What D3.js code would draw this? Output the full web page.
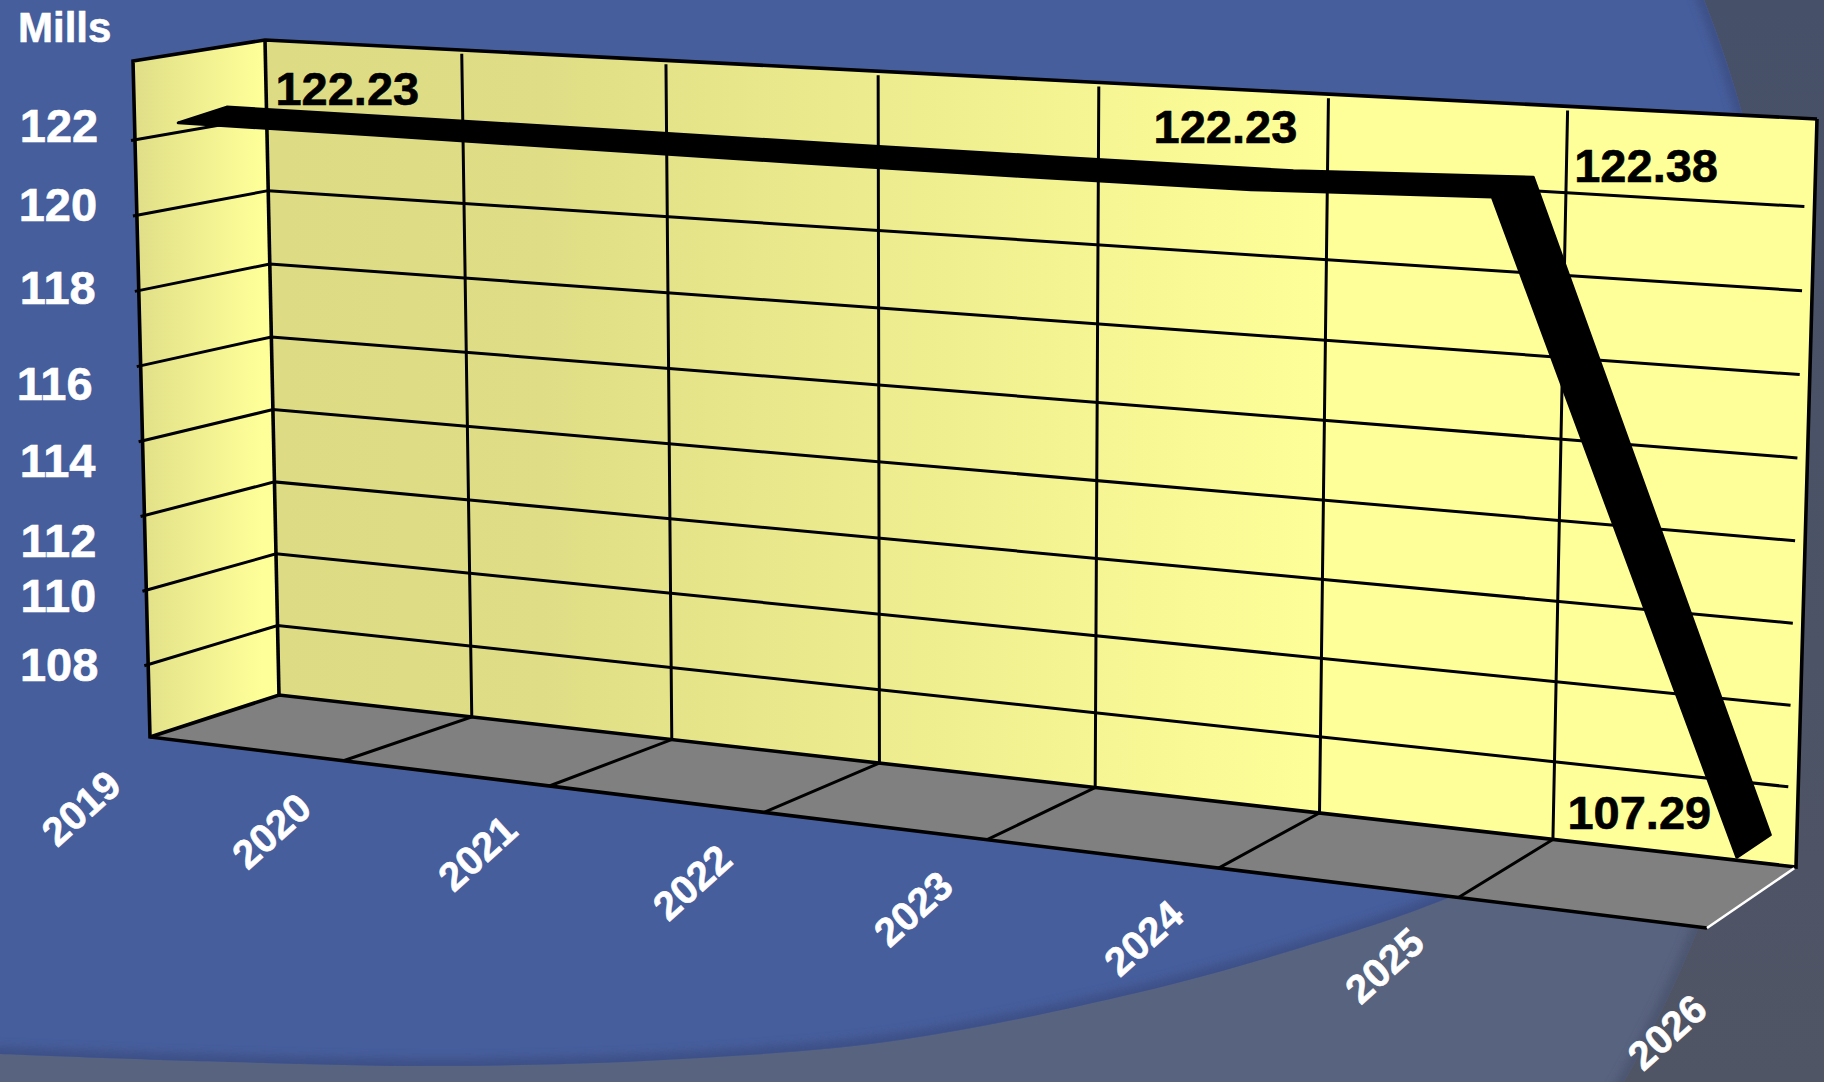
<!DOCTYPE html>
<html>
<head>
<meta charset="UTF-8" />
<title>Mills</title>
<script src="https://d3js.org/d3.v7.min.js"></script>
<style>
  html, body { margin: 0; padding: 0; background: #465E9C; overflow: hidden; }
  svg { display: block; }
  text { font-family: "Liberation Sans", Arial, sans-serif; font-weight: bold; stroke-width: 0.6; }
</style>
</head>
<body>
<div id="main"></div>
<script type="text/javascript">

// data
var years = [2019, 2020, 2021, 2022, 2023, 2024, 2025, 2026]
// the line is a flat ribbon, these are its rear and front edge
var millsRear = [122.45, 122.47, 122.49, 122.5, 122.52, 122.55, 122.76, 107.29]
var millsFront = [122.25, 122.3, 122.34, 122.38, 122.44, 122.52, 122.76, 107.29]
var yTicks = [108, 110, 112, 114, 116, 118, 120, 122]
var labelYears = [2019, 2024, 2025, 2026]
var labelValues = [122.23, 122.23, 122.38, 107.29]

// hand placed text, same as the slide
var yTickNudge = [[-89, -1], [-88, 5], [-86, 24], [-85, 19], [-86, 17], [-81, -4], [-79, -11], [-76, -14.5]]
var yearNudge = [[-69, 71], [-72, 70], [-72, 67], [-72, 70], [-74, 69], [-75, 70], [-74, 68], [-40, 104]]
var labelNudge = [[9, -3], [-174, -26], [8, 5], [-230, 12]]

var width = 1824
var height = 1082

var svg = d3.select("#main").append("svg")
    .attr("width", width)
    .attr("height", height)

var defs = svg.append("defs")

// corners of the 3d box: [bottom left, bottom right, top right, top left]
var backPlane = [[279, 695], [1796, 867], [1817, 119], [265, 40]]
var frontPlane = [[150, 737], [1707, 928], [1707, 179], [133, 61]]

function makeHomography(q) {
    var dx1 = q[1][0] - q[2][0], dx2 = q[3][0] - q[2][0], sx = q[0][0] - q[1][0] + q[2][0] - q[3][0]
    var dy1 = q[1][1] - q[2][1], dy2 = q[3][1] - q[2][1], sy = q[0][1] - q[1][1] + q[2][1] - q[3][1]
    var det = dx1 * dy2 - dx2 * dy1
    var g = (sx * dy2 - dx2 * sy) / det
    var h = (dx1 * sy - sx * dy1) / det
    var a = q[1][0] - q[0][0] + g * q[1][0], b = q[3][0] - q[0][0] + h * q[3][0]
    var d = q[1][1] - q[0][1] + g * q[1][1], e = q[3][1] - q[0][1] + h * q[3][1]
    // s runs left to right, t runs bottom to top
    return function(s, t) {
        var w = g * s + h * t + 1
        return [(a * s + b * t + q[0][0]) / w, (d * s + e * t + q[0][1]) / w]
    }
}
var back = makeHomography(backPlane)
var front = makeHomography(frontPlane)

var xScale = d3.scaleLinear().domain([2019, 2026]).range([0, 1])
var yScale = d3.scaleLinear().domain([106.05, 124.08]).range([0, 1])

function project(year, value, depth) {
    var s = xScale(year), t = yScale(value)
    // front plane has a bit more perspective than its corners give
    var b = back(s, t), f = front(Math.pow(Math.max(s, 0), 1.025), t)
    return [b[0] + (f[0] - b[0]) * depth, b[1] + (f[1] - b[1]) * depth]
}

var line = d3.line()
var yMin = yScale.domain()[0], yMax = yScale.domain()[1]

// background
var darkGrad = defs.append("linearGradient").attr("id", "darkGrad").attr("x1", 0).attr("y1", 0).attr("x2", 0).attr("y2", 1)
darkGrad.append("stop").attr("offset", 0).attr("stop-color", "#465068")
darkGrad.append("stop").attr("offset", 1).attr("stop-color", "#505565")
var wallGrad = defs.append("linearGradient").attr("id", "wallGrad")
    .attr("gradientUnits", "userSpaceOnUse").attr("x1", 279).attr("y1", 0).attr("x2", 1330).attr("y2", 0)
wallGrad.append("stop").attr("offset", 0).attr("stop-color", "#dddc85")
wallGrad.append("stop").attr("offset", 0.25).attr("stop-color", "#dfde86")
wallGrad.append("stop").attr("offset", 1).attr("stop-color", "#ffff99")
var sideGrad = defs.append("linearGradient").attr("id", "sideGrad")
    .attr("gradientUnits", "userSpaceOnUse").attr("x1", 135).attr("y1", 0).attr("x2", 262).attr("y2", 0)
sideGrad.append("stop").attr("offset", 0).attr("stop-color", "#e0df88")
sideGrad.append("stop").attr("offset", 1).attr("stop-color", "#ffff99")
defs.append("filter").attr("id", "soft").append("feGaussianBlur").attr("stdDeviation", 5)

var bigCircle = { cx: 531, cy: 457, r: 1259 }
var blueEdge = [[-40, 1052], [0, 1054], [230, 1062], [459, 1066], [700, 1058], [900, 1040], [1136, 993], [1300, 948], [1448, 898], [1700, 780], [1900, 650]]
var blueEdgePath = d3.line().curve(d3.curveCatmullRom)(blueEdge)
var blueShape = blueEdgePath + "L1900,-40L-40,-40Z"

defs.append("clipPath").attr("id", "inCircle").append("circle")
    .attr("cx", bigCircle.cx).attr("cy", bigCircle.cy).attr("r", bigCircle.r)
defs.append("clipPath").attr("id", "inBlue").append("path").attr("d", blueShape)

svg.append("rect").attr("width", width).attr("height", height).attr("fill", "url(#darkGrad)")
var bg = svg.append("g").attr("clip-path", "url(#inCircle)")
bg.append("rect").attr("width", width).attr("height", height).attr("fill", "#58637f")
bg.append("circle").attr("cx", bigCircle.cx).attr("cy", bigCircle.cy).attr("r", bigCircle.r)
    .attr("fill", "none").attr("stroke", "#4b5570").attr("stroke-width", 14).attr("filter", "url(#soft)")
var blue = bg.append("g").attr("clip-path", "url(#inBlue)")
blue.append("rect").attr("width", width).attr("height", height).attr("fill", "#465e9c")
blue.append("path").attr("d", blueEdgePath).attr("fill", "none")
    .attr("stroke", "#3c4f86").attr("stroke-width", 14).attr("filter", "url(#soft)")
blue.append("circle").attr("cx", bigCircle.cx).attr("cy", bigCircle.cy).attr("r", bigCircle.r)
    .attr("fill", "none").attr("stroke", "#3c4f86").attr("stroke-width", 14).attr("filter", "url(#soft)")

// walls and floor
var first = years[0], last = years[years.length - 1]
svg.append("path").attr("fill", "url(#wallGrad)")
    .attr("d", line([project(first, yMin, 0), project(first, yMax, 0), project(last, yMax, 0), project(last, yMin, 0)]) + "Z")
svg.append("path").attr("fill", "url(#sideGrad)")
    .attr("d", line([project(first, yMin, 1), project(first, yMax, 1), project(first, yMax, 0), project(first, yMin, 0)]) + "Z")
svg.append("path").attr("fill", "#808080")
    .attr("d", line([project(first, yMin, 1), project(first, yMin, 0), project(last, yMin, 0), project(last, yMin, 1)]) + "Z")

// gridlines
var grid = svg.append("g").attr("fill", "none").attr("stroke", "#000").attr("stroke-width", 3)
grid.selectAll(".hgrid").data(yTicks).enter().append("path")
    .attr("d", function(d) {
        return line([project(first, d, 1.03), project(first, d, 0), project(last - 0.04, d, 0)])
    })
grid.selectAll(".vgrid").data(years.slice(1, -1)).enter().append("path")
    .attr("d", function(d) {
        return line([project(d, yMax - 0.1, 0), project(d, yMin, 0), project(d, yMin, 1)])
    })

// box outline
var outline = svg.append("g").attr("fill", "none").attr("stroke", "#000").attr("stroke-width", 3.6).attr("stroke-linejoin", "miter")
outline.append("path").attr("d", line([project(first, yMin, 0), project(first, yMax, 0)]))
outline.append("path").attr("d", line([project(last, yMax, 0), project(first, yMax, 0), project(first, yMax, 1), project(first, yMin, 1), project(last, yMin, 1)]))
outline.append("path").attr("d", line([project(first, yMin, 1), project(first, yMin, 0), project(last, yMin, 0), project(last, yMax, 0)]))
svg.append("path").attr("fill", "none").attr("stroke", "#fff").attr("stroke-width", 2.6)
    .attr("d", line([project(last, yMin, 0.02), project(last, yMin, 1)]))

// the thick line
var ribbonBack = 0.3, ribbonFront = 0.67
var ribbon = years.map(function(y, i) { return project(y, millsRear[i], ribbonBack) })
    .concat(years.map(function(y, i) { return project(y, millsFront[i], ribbonFront) }).reverse())
svg.append("path").attr("fill", "#000").attr("stroke", "#000").attr("stroke-width", 3)
    .attr("stroke-linejoin", "round")
    .attr("d", line(ribbon) + "Z")

// texts
svg.append("text").attr("x", 18).attr("y", 42).attr("font-size", 42).attr("fill", "#fff").attr("stroke", "#fff").text("Mills")

svg.selectAll(".ytick").data(yTicks).enter().append("text")
    .attr("text-anchor", "middle")
    .attr("font-size", 47)
    .attr("fill", "#fff").attr("stroke", "#fff")
    .attr("x", function(d, i) { return project(first, d, 1)[0] + yTickNudge[i][0] })
    .attr("y", function(d, i) { return project(first, d, 1)[1] + yTickNudge[i][1] + 17 })
    .text(function(d) { return d })

svg.selectAll(".year").data(years).enter().append("text")
    .attr("text-anchor", "middle")
    .attr("font-size", 40)
    .attr("fill", "#fff").attr("stroke", "#fff")
    .attr("transform", function(d, i) {
        var p = project(d, yMin, 1)
        return "translate(" + (p[0] + yearNudge[i][0]) + "," + (p[1] + yearNudge[i][1]) + ") rotate(-42) translate(0,14)"
    })
    .text(function(d) { return d })

svg.selectAll(".label").data(labelValues).enter().append("text")
    .attr("font-size", 47)
    .attr("fill", "#000").attr("stroke", "#000")
    .attr("x", function(d, i) { return project(labelYears[i], d, 0)[0] + labelNudge[i][0] })
    .attr("y", function(d, i) { return project(labelYears[i], d, 0)[1] + labelNudge[i][1] })
    .text(function(d) { return d3.format(".2f")(d) })

</script>
</body>
</html>
